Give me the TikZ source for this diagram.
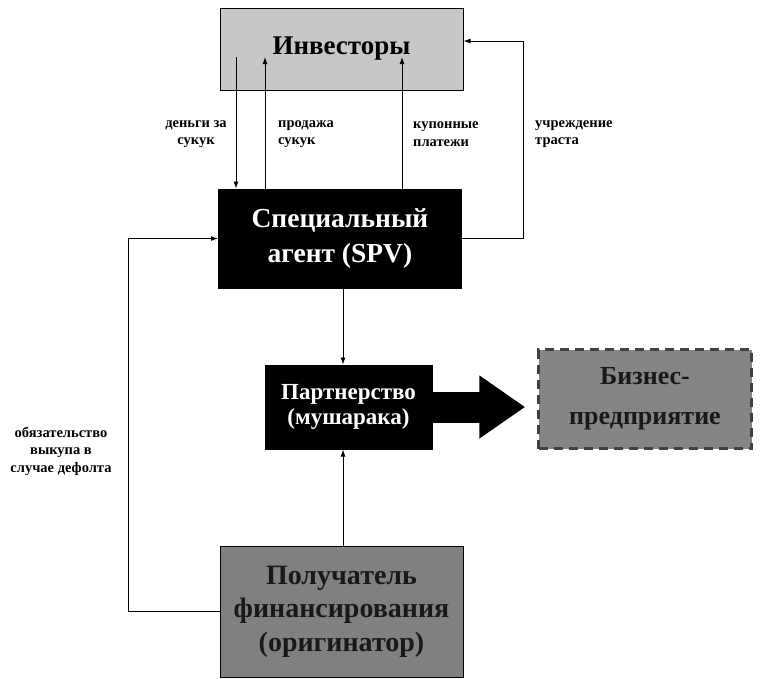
\documentclass[tikz,border=0pt]{standalone}
\usepackage{fontspec}
\setmainfont{Liberation Serif}
\usetikzlibrary{arrows.meta}

\begin{document}
\begin{tikzpicture}[x=1pt,y=-1pt,
	arr/.style={-{Latex[length=7pt,width=5pt]}, line width=0.9pt},
	lbl/.style={font=\bfseries\fontsize{14.5}{17.5}\selectfont, inner sep=0pt},
	dark/.style={draw=black, line width=1pt, fill=black, text=white, font=\bfseries\fontsize{27.5}{35}\selectfont, align=center, inner sep=0pt}]
	\useasboundingbox (0,0) rectangle (760,678);
	% boxes
	\node[draw=black, line width=1pt, fill=black!22, minimum width=243, minimum height=82, font=\bfseries\fontsize{27}{30}\selectfont] (inv) at (341.5,49) {Инвесторы};
	\node[dark, minimum width=243, minimum height=99] (spv) at (340,238.5) {Специальный\\агент (SPV)};
	\node[dark, minimum width=167, minimum height=84, font=\bfseries\fontsize{23}{25}\selectfont] (part) at (348.5,407) {Партнерство\\(мушарака)};
	\node[draw=black!75, line width=2.5pt, dash pattern=on 9pt off 6pt, fill=black!48, minimum width=213, minimum height=99, align=center, text=black!90, font=\bfseries\fontsize{26}{40}\selectfont] (biz) at (645,399) {Бизнес-\\предприятие};
	\node[draw=black, line width=1pt, fill=black!50, minimum width=243, minimum height=131, align=center, text=black!90, font=\bfseries\fontsize{28}{33.5}\selectfont] (orig) at (341.5,611.5) {Получатель\\финансирования\\(оригинатор)};
	% points where the lines start inside the investors box
	\coordinate (m1) at (236,57);
	\coordinate (m2) at (265,57);
	\coordinate (m3) at (402,57);
	\coordinate (tr) at (523,41);
	\coordinate (mid) at (343,0);
	\coordinate (dl) at (128,0);
	% connectors
	\draw[arr] (m1) -- (m1 |- spv.north);
	\draw[arr] (m2 |- spv.north) -- (m2);
	\draw[arr] (m3 |- spv.north) -- (m3);
	\draw[arr] (spv.east) -| (tr) -- (tr -| inv.east);
	\draw[arr] (mid |- spv.south) -- (mid |- part.north);
	\draw[arr] (mid |- orig.north) -- (mid |- part.south);
	\draw[arr] (orig.west) -| (dl |- spv.west) -- (spv.west);
	\draw[line width=31pt, -{Triangle[length=46pt,width=60pt]}] (part.east) -- ([xshift=-12pt]biz.west |- part.east);
	% labels
	\node[lbl, align=center] (l1) at (196,134) {деньги за\\сукук};
	\node[lbl, align=left, anchor=west] (l2) at (278,134) {продажа\\сукук};
	\node[lbl, align=left, anchor=west] (l3) at (413,134) {купонные\\платежи};
	\node[lbl, align=left, anchor=west] (l4) at (535,134) {учреждение\\траста};
	\node[lbl, align=center] (l5) at (61,451) {обязательство\\выкупа в\\случае дефолта};
\end{tikzpicture}
\end{document}
